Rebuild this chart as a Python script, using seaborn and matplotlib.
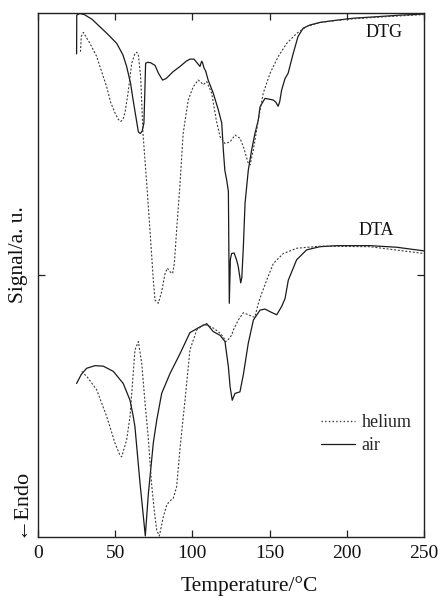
import numpy as np
import pandas as pd
import matplotlib
matplotlib.use("Agg")
import matplotlib.pyplot as plt
from matplotlib.lines import Line2D
import seaborn as sns

# ---- data ----
dtg_air_T = [25, 25.1, 27, 30, 35, 40, 45, 51, 55, 57.4, 60, 61.6, 63.5, 65, 66.3, 67.5, 68.6, 69.2, 69.7,
             71, 73, 75.8, 78, 80.7, 83, 87.5, 92, 96, 98.4, 101, 103, 104.9, 106, 106.6, 107.5, 108.5,
             110.2, 113.5, 116.8, 119, 120, 121, 122.2, 123.3, 123.9, 124.6, 125.4, 127, 128.5, 129.7,
             131.3, 132, 133, 134.1, 136.2, 138.4, 140.5, 142.7, 143.8, 147, 149, 152.3, 154, 155.5,
             156.5, 157.8, 160, 162, 165.3, 168.4, 171.7, 176, 182.6, 190, 204, 220, 235, 250]
dtg_air_S = [9.22, 9.96, 9.99, 9.97, 9.88, 9.74, 9.6, 9.42, 9.2, 8.98, 8.65, 8.34, 8.0, 7.73, 7.70, 7.75,
             7.9, 8.5, 9.04, 9.06, 9.05, 9.0, 8.85, 8.72, 8.75, 8.88, 8.98, 9.08, 9.12, 9.12, 9.05, 8.98,
             9.08, 9.05, 8.95, 8.9, 8.72, 8.47, 8.15, 7.9, 7.4, 7.0, 6.81, 6.6, 4.46, 5.3, 5.41, 5.42,
             5.3, 5.16, 4.85, 4.95, 5.54, 6.37, 7.0, 7.39, 7.7, 7.96, 8.21, 8.37, 8.36, 8.34, 8.3, 8.22,
             8.3, 8.53, 8.75, 8.85, 9.23, 9.55, 9.71, 9.77, 9.82, 9.85, 9.9, 9.93, 9.96, 9.98]

dtg_he_T = [27.5, 28, 29.4, 31, 34, 38, 41, 44.5, 47, 49.9, 52, 53.6, 55, 56.3, 58.3, 60.7, 62.8, 64, 65,
            66.5, 68, 70.4, 72.5, 74.7, 75.8, 77.9, 80.1, 82.3, 83.8, 85.5, 87.2, 88.3, 89.8, 92, 94,
            97.3, 100.5, 103.7, 105.5, 107, 109.3, 112.5, 115.5, 117.9, 121.1, 124.4, 127.6, 130.8,
            133, 136.2, 137.3, 139.5, 142.7, 145.9, 150.3, 155.6, 161.1, 167.5, 174, 182.6, 200, 225, 250]
dtg_he_S = [9.26, 9.55, 9.63, 9.55, 9.4, 9.17, 8.9, 8.59, 8.3, 8.09, 7.97, 7.93, 7.97, 8.09, 8.47, 9.04,
            9.23, 9.25, 9.2, 8.78, 7.7, 6.75, 5.86, 4.9, 4.52, 4.46, 4.68, 5.03, 5.13, 5.06, 5.03, 5.22,
            5.86, 6.75, 7.7, 8.34, 8.59, 8.72, 8.68, 8.63, 8.69, 8.47, 7.95, 7.64, 7.51, 7.54, 7.67,
            7.61, 7.45, 7.13, 7.1, 7.39, 7.96, 8.47, 8.85, 9.17, 9.42, 9.61, 9.74, 9.82, 9.88, 9.93, 9.97]

dta_air_T = [25, 28, 31.5, 36.9, 42.3, 48.8, 55.2, 59.6, 61.7, 62.8, 66, 69.5, 71.4, 74.7, 76.9, 80.1,
             85.5, 92, 98.4, 104.9, 109.3, 113.5, 117.9, 121.1, 123.3, 124.4, 125.8, 127.6, 130.8, 133,
             136.2, 139.5, 143.8, 147, 150.3, 154.6, 157.8, 160, 162.1, 167.5, 174, 182.6, 193.4, 215,
             232.3, 250]
dta_air_S = [2.93, 3.1, 3.22, 3.27, 3.26, 3.16, 2.93, 2.61, 2.3, 2.1, 1.05, 0.02, 0.8, 1.8, 2.23, 2.74,
             3.12, 3.5, 3.9, 4.01, 4.07, 3.92, 3.85, 3.73, 3.25, 2.87, 2.61, 2.74, 2.77, 3.1, 3.7, 4.14,
             4.33, 4.35, 4.3, 4.24, 4.4, 4.55, 4.9, 5.29, 5.48, 5.54, 5.56, 5.56, 5.53, 5.46]

dta_he_T = [28.3, 32, 38, 44.5, 49.9, 53.1, 54.2, 57.4, 59.6, 62.8, 65, 67.2, 69.5, 71.4, 73.6, 75.5,
            76.9, 78.6, 81.2, 83.5, 86.6, 87.6, 89.8, 92, 95.2, 98.4, 102.8, 107.1, 110, 114, 117.9,
            120, 121.5, 122.5, 125.4, 126.5, 129.7, 133, 136.2, 139.5, 140.5, 142.7, 144.9, 148.1,
            152.4, 158.9, 167.5, 182.6, 215, 250]
dta_he_S = [3.16, 3.05, 2.81, 2.3, 1.79, 1.56, 1.53, 1.85, 2.3, 3.57, 3.73, 3.31, 2.5, 1.9, 1.0, 0.45,
            0.13, 0.02, 0.39, 0.62, 0.72, 0.74, 0.96, 1.7, 2.61, 3.57, 3.95, 4.05, 4.04, 3.98, 3.89,
            3.82, 3.73, 3.74, 3.85, 3.95, 4.14, 4.28, 4.24, 4.2, 4.2, 4.46, 4.65, 4.9, 5.22, 5.41,
            5.51, 5.55, 5.54, 5.41]

x_ticks = [0, 50, 100, 150, 200, 250]
curve_labels = ["DTG", "DTA"]
legend_labels = ["helium", "air"]

# ---- styling ----
sns.set_theme(style="ticks")
plt.rcParams["font.family"] = ["Liberation Serif", "DejaVu Serif"]

fig = plt.figure(figsize=(4.39, 5.96), dpi=100)
ax = fig.add_axes([38 / 439, 59 / 596, 386 / 439, 524 / 596])

solid_kw = dict(color="#1a1a1a", linewidth=0.9, estimator=None, sort=False, ax=ax, legend=False)
dot_kw = dict(color="#3a3a3a", linewidth=0.8, estimator=None, sort=False, ax=ax, legend=False,
              linestyle=(0, (1.8, 1.6)))

sns.lineplot(data=pd.DataFrame({"T": dtg_air_T, "S": dtg_air_S}), x="T", y="S", **solid_kw)
sns.lineplot(data=pd.DataFrame({"T": dta_air_T, "S": dta_air_S}), x="T", y="S", **solid_kw)
sns.lineplot(data=pd.DataFrame({"T": dtg_he_T, "S": dtg_he_S}), x="T", y="S", **dot_kw)
sns.lineplot(data=pd.DataFrame({"T": dta_he_T, "S": dta_he_S}), x="T", y="S", **dot_kw)

ax.set_xlim(0, 250)
ax.set_ylim(0, 10)
ax.set_xticks(x_ticks)
ax.set_xticklabels([str(t) for t in x_ticks])
ax.set_yticks([5])
ax.set_yticklabels([])
ax.tick_params(axis="both", direction="in", length=5, width=0.9, colors="#222222",
               labelsize=14, pad=6, top=True, right=True, labelcolor="#111111")
for s in ax.spines.values():
    s.set_linewidth(1.0)
    s.set_color("#222222")

ax.set_xlabel("Temperature/°C", fontsize=15.5, color="#111111")
ax.xaxis.set_label_coords(0.547, -0.075)
ax.set_ylabel("Signal/a. u.", fontsize=15.5, color="#111111")
ax.yaxis.set_label_coords(-0.026, 0.538)

fig.text(20 / 439, 1 - 502 / 596, "←Endo", rotation=90, ha="center", va="center",
         fontsize=16, color="#111111", family=["Liberation Serif", "DejaVu Sans"])

ax.text(224, 9.62, curve_labels[0], ha="center", va="center", fontsize=13, color="#111111")
ax.text(219, 5.84, curve_labels[1], ha="center", va="center", fontsize=13, color="#111111")

handles = [Line2D([], [], color="#3a3a3a", linestyle=":", linewidth=1.0),
           Line2D([], [], color="#1a1a1a", linestyle="-", linewidth=0.9)]
ax.legend(handles, legend_labels, loc="upper left", bbox_to_anchor=(0.70, 0.258),
          frameon=False, fontsize=13, handlelength=1.9, handletextpad=0.35,
          labelspacing=0.3, borderpad=0.2)

fig.savefig("out.png", dpi=100)
